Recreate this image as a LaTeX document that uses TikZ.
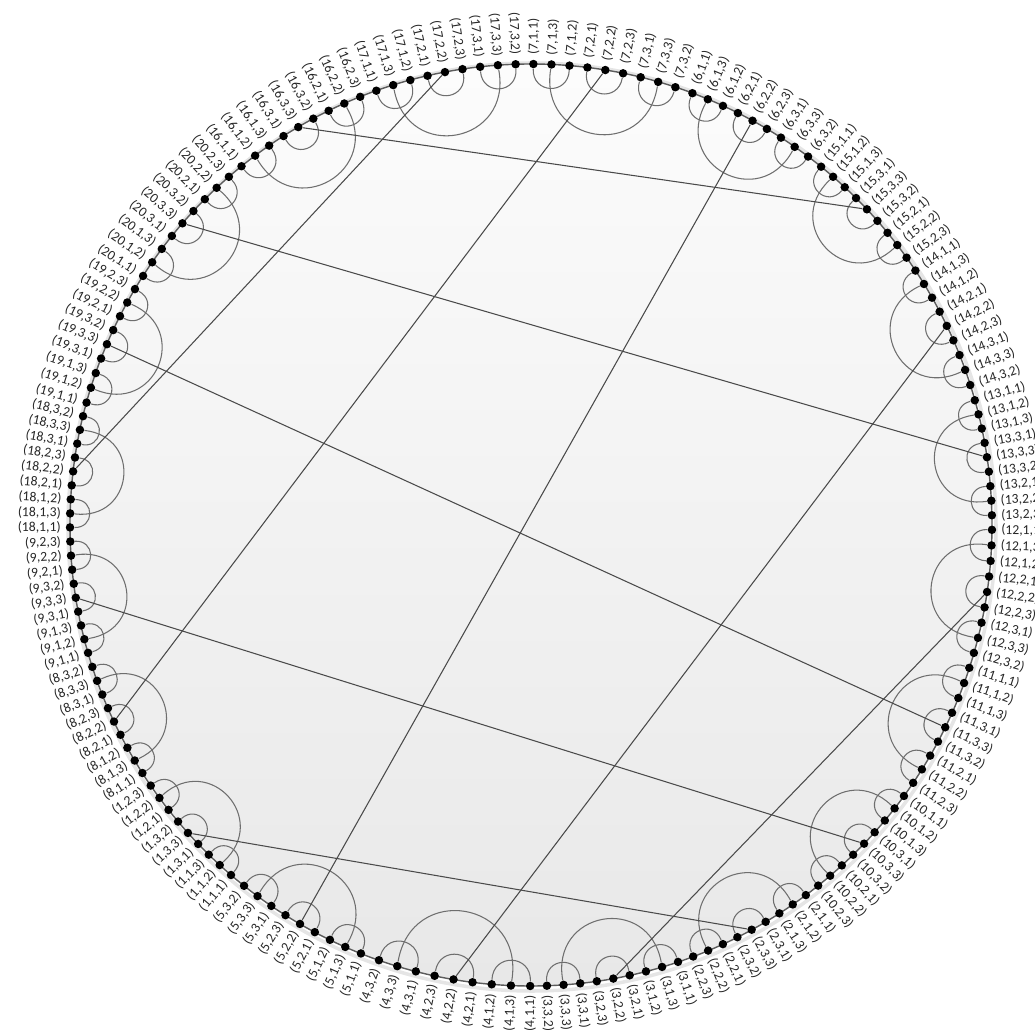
\documentclass[tikz,border=0pt]{standalone}
\usepackage{fontspec}
\setmainfont{Carlito}
\definecolor{graphInk}{HTML}{262626}
\definecolor{graphArc}{HTML}{6E6E6E}
\definecolor{graphLink}{HTML}{4A4A4A}
\definecolor{graphRim}{HTML}{5C5C5C}
\definecolor{diskTop}{HTML}{FCFCFC}
\definecolor{diskBottom}{HTML}{E8E8E8}
\tikzset{
  every picture/.style={font=\fontsize{7.8}{9}\selectfont, text=graphInk},
  graph dot/.style={circle, fill=black, inner sep=0pt, minimum size=1.7mm},
  graph arc/.style={draw=graphArc, line width=0.6pt, looseness=1.8},
  graph link/.style={draw=graphLink, line width=0.6pt},
  graph rim/.style={draw=graphRim, line width=0.8pt},
  graph label/.style={inner sep=0pt}
}
% order of the nine members of a group round the ring
\def\ordA{1/1,1/3,1/2,2/1,2/2,2/3,3/1,3/3,3/2}
\def\ordB{1/1,1/2,1/3,3/1,3/3,3/2,2/1,2/2,2/3}
% group / order / first and last angle (clockwise from the top)
\def\grouplist{7/A/0.3/20.5, 6/A/20.5/39.0, 15/B/39.0/56.5, 14/A/56.5/74.3,
  13/B/74.3/90.6, 12/A/90.6/108.05, 11/B/108.05/126.0, 10/B/126.0/143.4,
  2/B/143.4/161.4, 3/A/161.4/180.1, 4/A/180.1/201.65, 5/A/201.65/220.6,
  1/B/220.6/237.45, 8/A/237.45/253.9, 9/B/253.9/269.7, 18/A/269.7/285.4,
  19/B/285.4/302.7, 20/B/302.7/321.1, 16/B/321.1/340.4, 17/A/340.4/360.3}
\def\dotR{461}
\def\labR{470}

\begin{document}
\begin{tikzpicture}[x=0.02cm,y=0.02cm]
  \useasboundingbox (-531,-509) rectangle (504,525);
  \clip (-531,-509) rectangle (504,525);
  % disk
  \draw[gray!20, line width=2pt] (1,-2) circle (464);
  \shade[top color=diskTop, bottom color=diskBottom] (0,0) circle (\dotR);
  \draw[graph rim] (0,0) circle (\dotR);
  % vertices and labels
  \foreach \g/\pat/\ta/\tb [count=\k from 0] in \grouplist {
    \edef\ord{\csname ord\pat\endcsname}
    \foreach \a/\b [count=\j from 0] in \ord {
      \pgfmathtruncatemacro\i{9*\k+\j}
      \pgfmathsetmacro\ph{90-\ta-\j*(\tb-\ta)/9}
      \expandafter\xdef\csname phi\i\endcsname{\ph}
      \node[graph dot, alias=v\g-\a-\b] (d\i) at (\ph:\dotR) {};
      \ifdim\ph pt<-90pt
        \node[graph label, anchor=east, rotate=\ph+180] (l\i) at (\ph:\labR) {(\g,\a,\b)};
      \else
        \node[graph label, anchor=west, rotate=\ph] (l\i) at (\ph:\labR) {(\g,\a,\b)};
      \fi
    }
  }
  % arcs inside each group
  \foreach \k in {0,...,19} {
    \foreach \pa/\pb in {0/2,3/5,6/8,1/7} {
      \pgfmathtruncatemacro\ia{9*\k+\pa}
      \pgfmathtruncatemacro\ib{9*\k+\pb}
      \pgfmathsetmacro\dir{(\csname phi\ia\endcsname+\csname phi\ib\endcsname)/2+180}
      \draw[graph arc] (d\ia) to[out=\dir, in=\dir] (d\ib);
    }
  }
  % links between groups
  \foreach \src/\dst in {16-3-3/15-3-3, 20-3-3/13-3-3, 19-3-3/11-3-3,
      9-3-3/10-3-3, 1-3-3/2-3-3, 17-2-2/18-2-2, 7-2-2/8-2-2,
      6-2-2/5-2-2, 14-2-2/4-2-2, 12-2-2/3-2-2}
    \draw[graph link] (v\src) -- (v\dst);
\end{tikzpicture}
\end{document}
